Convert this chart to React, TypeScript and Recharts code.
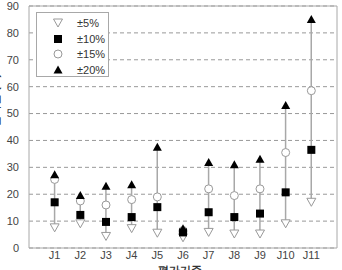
import {
  Bar,
  CartesianGrid,
  ComposedChart,
  ReferenceArea,
  Scatter,
  XAxis,
  YAxis,
} from 'recharts';

const categories = ['J1', 'J2', 'J3', 'J4', 'J5', 'J6', 'J7', 'J8', 'J9', 'J10', 'J11'];
const pm5 = [7.5, 9, 4.3, 7.2, 5.5, 3.8, 5.8, 5.2, 5.2, 9, 17];
const pm10 = [17, 12.3, 9.7, 11.5, 15.2, 5.8, 13.3, 11.5, 12.8, 20.7, 36.5];
const pm15 = [25.5, 17.5, 16, 18, 19, 6.5, 22, 19.5, 22, 35.5, 58.5];
const pm20 = [27.2, 19.5, 23, 23.5, 37.5, 7.2, 31.8, 31, 33, 53, 85];
const yTicks = [0, 10, 20, 30, 40, 50, 60, 70, 80, 90];

const FONT = '"Liberation Sans", Arial, sans-serif';
const GRAY = '#a8a8a8';

type Row = {
  x: number;
  name: string;
  d5: number;
  d10: number;
  d15: number;
  d20: number;
  range: [number, number];
};

const data: Row[] = categories.map((name, i) => ({
  x: i + 1,
  name,
  d5: pm5[i],
  d10: pm10[i],
  d15: pm15[i],
  d20: pm20[i],
  range: [pm5[i], pm20[i]],
}));

type ShapeProps = { cx?: number; cy?: number };

function TriDown({ cx = 0, cy = 0 }: ShapeProps) {
  return (
    <path
      d={`M${cx - 4.5},${cy - 4} L${cx + 4.5},${cy - 4} L${cx},${cy + 4} Z`}
      fill="#fff"
      stroke="#999"
      strokeWidth={1}
    />
  );
}

function Square({ cx = 0, cy = 0 }: ShapeProps) {
  return <rect x={cx - 4} y={cy - 4} width={8} height={8} fill="#000" />;
}

function Circle({ cx = 0, cy = 0 }: ShapeProps) {
  return <circle cx={cx} cy={cy} r={4} fill="#fff" stroke="#999" strokeWidth={1} />;
}

function TriUp({ cx = 0, cy = 0 }: ShapeProps) {
  return (
    <path
      d={`M${cx - 4.5},${cy + 3.5} L${cx + 4.5},${cy + 3.5} L${cx},${cy - 4.5} Z`}
      fill="#000"
    />
  );
}

const legendItems = [
  { label: '±5%', Shape: TriDown },
  { label: '±10%', Shape: Square },
  { label: '±15%', Shape: Circle },
  { label: '±20%', Shape: TriUp },
];

export default function App() {
  return (
    <div style={{ position: 'absolute', left: 0, top: 0, width: 342, height: 270, background: '#fff', overflow: 'hidden' }}>
      <ComposedChart
        width={342}
        height={270}
        data={data}
        margin={{ top: 6, right: 5, left: 0, bottom: 0 }}
        style={{ fontFamily: FONT }}
      >
        <CartesianGrid vertical={false} stroke="#999" strokeDasharray="4 3" />
        <XAxis
          dataKey="x"
          type="number"
          domain={[0, 12]}
          ticks={categories.map((_, i) => i + 1)}
          tickFormatter={(v) => categories[Number(v) - 1] ?? ''}
          height={22}
          axisLine={false}
          tickLine={false}
          tick={{ fill: '#444', fontSize: 11, dy: -5 }}
          tickMargin={2}
        />
        <YAxis
          type="number"
          domain={[0, 90]}
          ticks={yTicks}
          width={29}
          axisLine={false}
          tickLine={false}
          tick={{ fill: '#444', fontSize: 11 }}
          tickMargin={4}
          label={{
            value: '변화율 (%)',
            angle: -90,
            position: 'insideLeft',
            offset: -5,
            dy: 0,
            fill: '#333',
            fontSize: 11,
            fontWeight: 'bold',
          }}
        />
        <ReferenceArea x1={0} x2={12} y1={0} y2={90} fill="none" stroke={GRAY} strokeWidth={1} />
        <Bar dataKey="range" barSize={1.5} fill={GRAY} isAnimationActive={false} />
        <Scatter dataKey="d5" shape={TriDown} isAnimationActive={false} />
        <Scatter dataKey="d15" shape={Circle} isAnimationActive={false} />
        <Scatter dataKey="d10" shape={Square} isAnimationActive={false} />
        <Scatter dataKey="d20" shape={TriUp} isAnimationActive={false} />
      </ComposedChart>
      <div
        style={{
          position: 'absolute',
          left: 130,
          top: 263,
          width: 100,
          textAlign: 'center',
          fontFamily: FONT,
          fontSize: 11,
          fontWeight: 'bold',
          color: '#333',
          lineHeight: '14px',
        }}
      >
        평가기준
      </div>
      <div
        style={{
          position: 'absolute',
          left: 36,
          top: 12,
          width: 71,
          height: 63,
          border: `1px solid ${GRAY}`,
          background: '#fff',
          fontFamily: FONT,
          fontSize: 11,
          color: '#333',
        }}
      >
        {legendItems.map(({ label, Shape }, i) => (
          <div key={label} style={{ position: 'absolute', left: 0, top: 3 + i * 15.5, height: 15, width: 71 }}>
            <svg width={40} height={15} style={{ position: 'absolute', left: 0, top: 0 }}>
              <Shape cx={21} cy={7} />
            </svg>
            <span style={{ position: 'absolute', left: 40, top: 0, lineHeight: '15px' }}>{label}</span>
          </div>
        ))}
      </div>
    </div>
  );
}
